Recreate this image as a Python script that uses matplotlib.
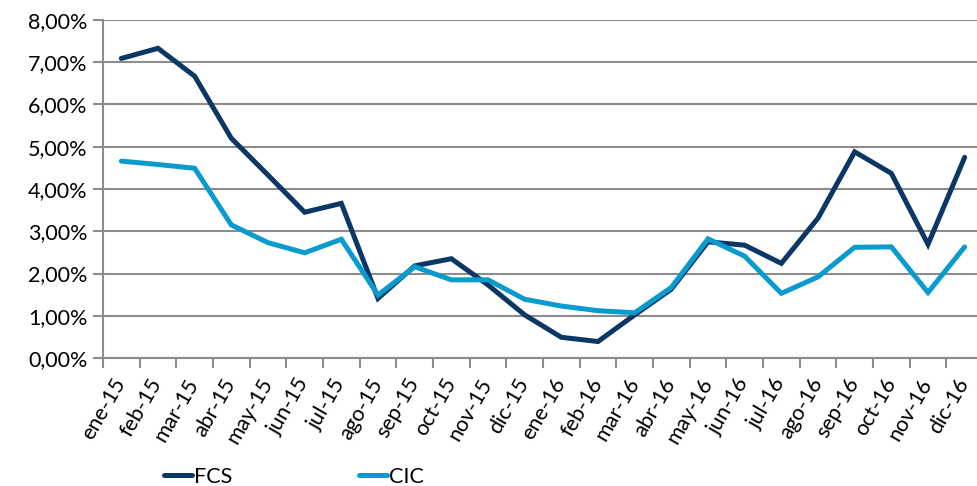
import numpy as np
import matplotlib.pyplot as plt
import matplotlib.transforms as mtransforms
from matplotlib.ticker import FuncFormatter, FixedLocator

plt.rcParams['font.family'] = ['Lato', 'DejaVu Sans']

# Datos
meses = ['ene-15', 'feb-15', 'mar-15', 'abr-15', 'may-15', 'jun-15', 'jul-15', 'ago-15',
         'sep-15', 'oct-15', 'nov-15', 'dic-15', 'ene-16', 'feb-16', 'mar-16', 'abr-16',
         'may-16', 'jun-16', 'jul-16', 'ago-16', 'sep-16', 'oct-16', 'nov-16', 'dic-16']
fcs = [7.09, 7.33, 6.67, 5.20, 4.33, 3.45, 3.66, 1.41, 2.18, 2.35, 1.73, 1.02,
       0.49, 0.39, 1.02, 1.63, 2.75, 2.67, 2.24, 3.31, 4.88, 4.37, 2.69, 4.75]
cic = [4.66, 4.58, 4.49, 3.15, 2.73, 2.49, 2.81, 1.49, 2.16, 1.85, 1.85, 1.39,
       1.23, 1.12, 1.07, 1.67, 2.82, 2.41, 1.53, 1.92, 2.62, 2.63, 1.55, 2.63]

col_fcs = '#0B3764'
col_cic = '#0A9BCE'
gris = '#8C8C8C'

fig = plt.figure(figsize=(9.77, 4.86), dpi=100)
ax = fig.add_axes([103 / 977, 1 - 358 / 486, 880 / 977, 338 / 486])

x = np.arange(len(meses))
ax.plot(x, fcs, color=col_fcs, lw=3.6, label='FCS', solid_capstyle='round', solid_joinstyle='miter')
ax.plot(x, cic, color=col_cic, lw=3.6, label='CIC', solid_capstyle='round', solid_joinstyle='miter')

ax.set_xlim(-0.5, len(meses) - 0.5)
ax.set_ylim(0, 8)
ax.set_yticks(np.arange(0, 9, 1))
ax.yaxis.set_major_formatter(FuncFormatter(lambda v, p: f'{v:.2f}%'.replace('.', ',')))
ax.grid(axis='y', color=gris, lw=1.5)
ax.set_axisbelow(True)

# etiquetas en el centro, marcas entre categorias
ax.set_xticks(x)
ax.set_xticklabels(meses, rotation=60, ha='right', rotation_mode='anchor')
ax.xaxis.set_minor_locator(FixedLocator(np.arange(-0.5, len(meses), 1)))
ax.tick_params(axis='x', which='major', length=0, pad=12, labelsize=15.5)
ax.tick_params(axis='x', which='minor', length=7, width=1.5, color=gris, direction='out')
ax.tick_params(axis='y', length=7, width=1.5, color=gris, labelsize=15.5, pad=4)

# desplazar un poco las etiquetas hacia la izquierda
desp = mtransforms.ScaledTranslation(-9 / 100, 0, fig.dpi_scale_trans)
for lab in ax.get_xticklabels():
    lab.set_transform(lab.get_transform() + desp)

for s in ['top', 'right']:
    ax.spines[s].set_visible(False)
for s in ['left', 'bottom']:
    ax.spines[s].set_color(gris)
    ax.spines[s].set_linewidth(1.5)

fig.legend(loc='center', bbox_to_anchor=(294 / 977, 1 - 477 / 486), ncol=2, frameon=False,
           fontsize=15.5, handlelength=1.3, handletextpad=0.1, columnspacing=5.9)

fig.savefig('out.png', dpi=100)
